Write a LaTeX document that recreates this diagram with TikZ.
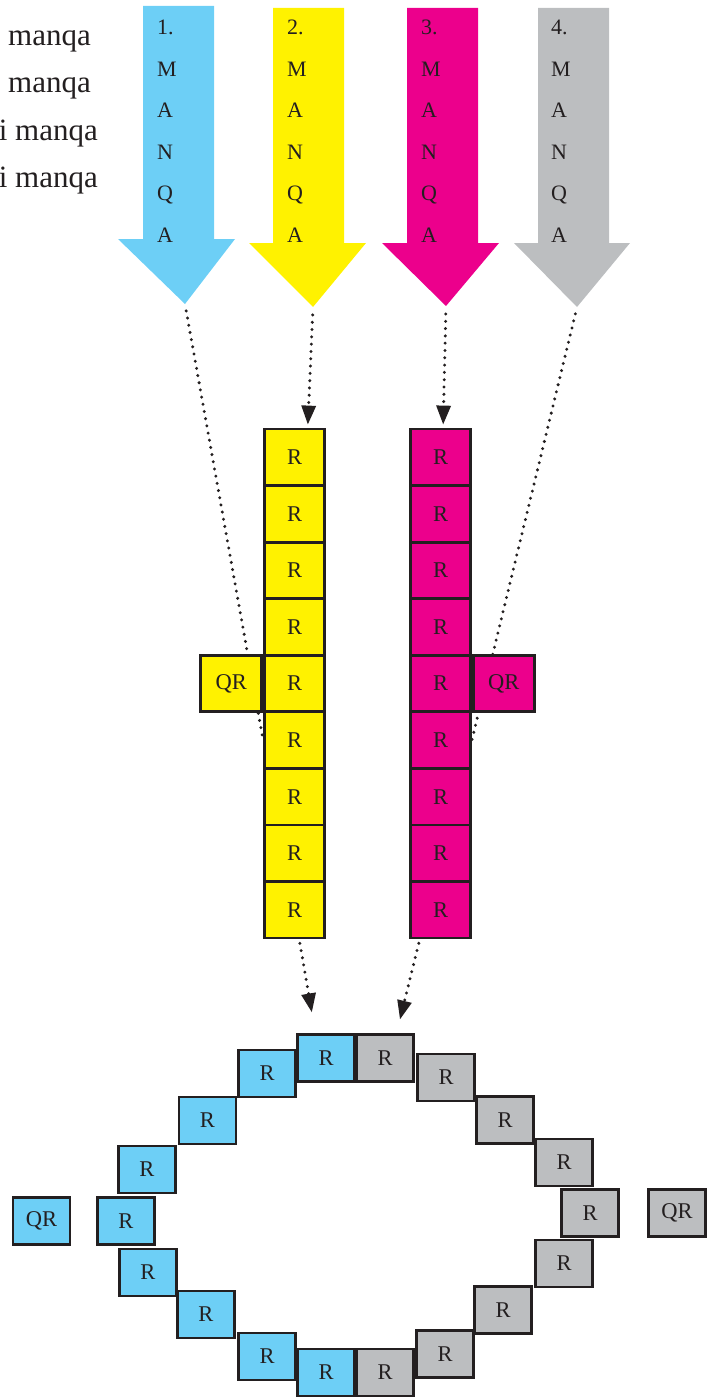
\documentclass[tikz,border=0pt]{standalone}
\usepackage{fontspec}
\setmainfont{Liberation Serif}
\usetikzlibrary{arrows.meta}
\definecolor{cBlue}{HTML}{6DCFF6}
\definecolor{cYellow}{HTML}{FFF200}
\definecolor{cMag}{HTML}{EC008C}
\definecolor{cGray}{HTML}{BCBEC0}
\definecolor{ink}{HTML}{231F20}
\pgfdeclarelayer{bg}
\pgfsetlayers{bg,main}
\tikzset{
  box/.style={draw=ink, line width=2.8pt, inner sep=0pt, text=ink, font=\fontsize{22.5}{24}\selectfont},
  colbox/.style={box, minimum width=60pt, minimum height=56.56pt},
  ringbox/.style={box, minimum width=57pt, minimum height=47pt},
  arrowletter/.style={anchor=base west, inner sep=0pt, text=ink, font=\fontsize{22}{24}\selectfont},
  sidetext/.style={anchor=base east, inner sep=0pt, text=ink, font=\fontsize{31}{34}\selectfont},
  dotline/.style={draw=ink, line width=3.3pt, line cap=round, dash pattern=on 0pt off 7.3pt},
  tipped/.style={-{Triangle[length=19pt,width=14pt]}},
}
\begin{document}
\begin{tikzpicture}[x=1pt,y=-1pt]
\useasboundingbox (0,0) rectangle (710,1399);

% left text
\node[sidetext] (s1) at (91,46) {manqa};
\node[sidetext] (s2) at (91,93) {manqa};
\node[sidetext] (s3) at (98,141) {i manqa};
\node[sidetext] (s4) at (98,188) {i manqa};

% big arrows
\fill[cBlue]   (143,6) -- (214,6) -- (214,239) -- (235,239) -- (185,304) -- (118,239) -- (143,239) -- cycle;
\fill[cYellow] (273,8) -- (344,8) -- (344,243) -- (366,243) -- (313,307) -- (249,243) -- (273,243) -- cycle;
\fill[cMag]    (407,8) -- (478,8) -- (478,243) -- (499,243) -- (446,306) -- (382,243) -- (407,243) -- cycle;
\fill[cGray]   (538,8) -- (609,8) -- (609,243) -- (630,243) -- (577,307) -- (514,243) -- (538,243) -- cycle;
\coordinate (t1) at (185,304);
\coordinate (t2) at (313,307);
\coordinate (t3) at (446,306);
\coordinate (t4) at (577,307);

\foreach \num/\xx/\ab in {1/157/a, 2/287/b, 3/421/c, 4/551/d}{
  \foreach \t [count=\k] in {\num.,M,A,N,Q,A}{
    \node[arrowletter] (\ab\k) at (\xx,{35+(\k-1)*41.4}) {\t};
  }
}

% columns
\foreach \i in {1,...,9}{
  \node[colbox, fill=cYellow] (y\i) at (294.5,{429+(\i-0.5)*56.56}) {R};
  \node[colbox, fill=cMag] (m\i) at (440.5,{429+(\i-0.5)*56.56}) {R};
}
\node[colbox, fill=cYellow, anchor=east, minimum width=61pt] (yq) at (y5.west) {QR};
\node[colbox, fill=cMag, anchor=west, minimum width=61pt] (mq) at (m5.east) {QR};

% ring: blue half
\node[ringbox, fill=cBlue] (b1) at (326,1058) {R};
\node[ringbox, fill=cBlue] (b2) at (267,1073.5) {R};
\node[ringbox, fill=cBlue] (b3) at (207.5,1120.5) {R};
\node[ringbox, fill=cBlue] (b4) at (147,1169.5) {R};
\node[ringbox, fill=cBlue] (b5) at (126,1221) {R};
\node[ringbox, fill=cBlue] (b6) at (148,1272.5) {R};
\node[ringbox, fill=cBlue] (b7) at (206,1314.5) {R};
\node[ringbox, fill=cBlue] (b8) at (267,1356.5) {R};
\node[ringbox, fill=cBlue] (b9) at (326,1372.5) {R};
\node[ringbox, fill=cBlue] (bq) at (41.5,1221) {QR};
% ring: gray half
\node[ringbox, fill=cGray] (g1) at (385,1058) {R};
\node[ringbox, fill=cGray] (g2) at (446,1077.5) {R};
\node[ringbox, fill=cGray] (g3) at (505,1120) {R};
\node[ringbox, fill=cGray] (g4) at (564,1162.5) {R};
\node[ringbox, fill=cGray] (g5) at (590,1213) {R};
\node[ringbox, fill=cGray] (g6) at (564,1263.5) {R};
\node[ringbox, fill=cGray] (g7) at (503,1310) {R};
\node[ringbox, fill=cGray] (g8) at (445,1354) {R};
\node[ringbox, fill=cGray] (g9) at (385,1372.5) {R};
\node[ringbox, fill=cGray] (gq) at (677,1213) {QR};

% dotted connectors
\begin{pgfonlayer}{bg}
\draw[dotline, shorten <=7pt] (t1) -- (y6.west);
\draw[dotline, shorten <=7pt] (t4) -- (m6.east);
\end{pgfonlayer}
\draw[dotline, tipped, shorten <=8pt, shorten >=3pt] (t2) -- (y1.66);
\draw[dotline, tipped, shorten <=8pt, shorten >=3pt] (t3) -- (m1.85);
\draw[dotline, tipped, shorten <=4pt, shorten >=21pt] (y9.279) -- (b1.113);
\draw[dotline, tipped, shorten <=4pt, shorten >=14pt] (m9.235) -- (g1.65);
\end{tikzpicture}
\end{document}
